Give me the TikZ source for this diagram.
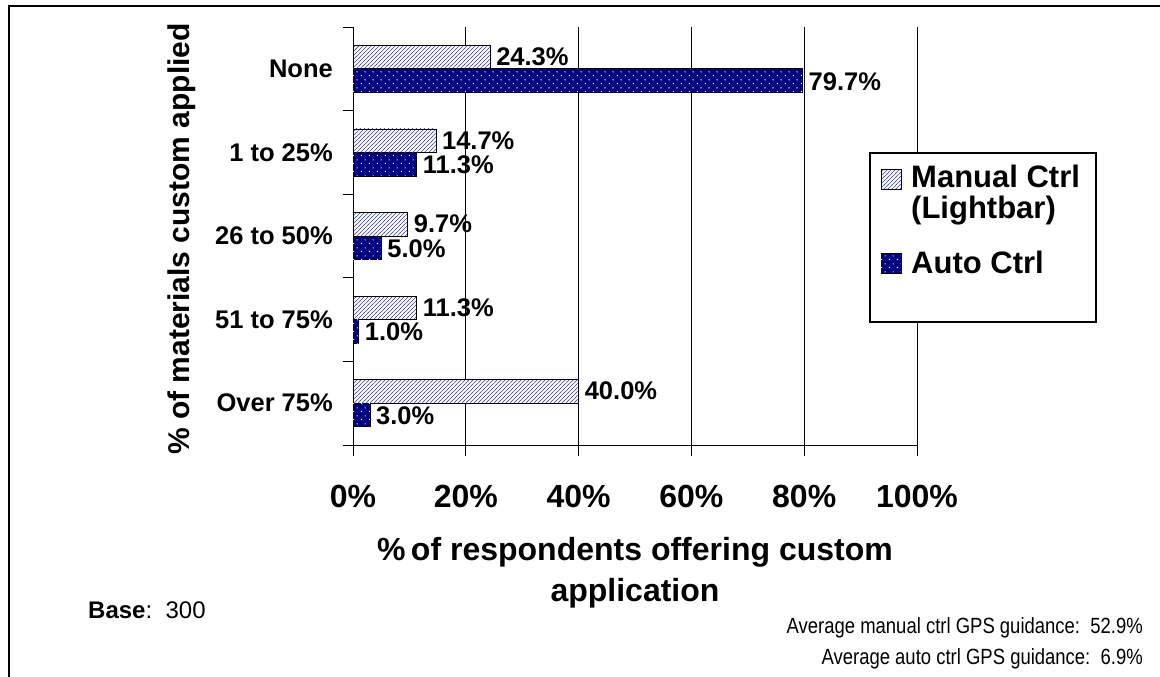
\documentclass[tikz,border=0pt]{standalone}
\usepackage{fontspec}
\setmainfont{Liberation Sans}
\newfontfamily\narrowsans[FakeStretch=0.84]{Liberation Sans}
\usetikzlibrary{patterns}

\definecolor{barnavy}{RGB}{0,0,128}
\definecolor{hatchblue}{RGB}{70,70,205}

% light diagonal hatching used for the manual-control bars
\pgfdeclarepatternformonly{wavehatch}{\pgfpoint{-1pt}{-1pt}}{\pgfpoint{5pt}{5pt}}{\pgfpoint{4pt}{4pt}}{%
  \pgfsetlinewidth{0.7pt}%
  \pgfpathmoveto{\pgfpoint{-0.5pt}{-0.5pt}}%
  \pgfpathlineto{\pgfpoint{4.5pt}{4.5pt}}%
  \pgfusepath{stroke}}

% sparse staggered dots used on the auto-control bars
\pgfdeclarepatternformonly{sparsedots}{\pgfpointorigin}{\pgfpoint{8pt}{8pt}}{\pgfpoint{8pt}{8pt}}{%
  \pgfpathrectangle{\pgfpoint{1pt}{1pt}}{\pgfpoint{1.2pt}{1.2pt}}%
  \pgfpathrectangle{\pgfpoint{5pt}{5pt}}{\pgfpoint{1.2pt}{1.2pt}}%
  \pgfusepath{fill}}

\newcommand\valfont{\fontsize{25.5}{29}\selectfont\bfseries}
\newcommand\tickfont{\fontsize{32}{35}\selectfont\bfseries}
\newcommand\titlefont{\fontsize{32}{41}\selectfont\bfseries}
\newcommand\legfont{\fontsize{31}{31}\selectfont\bfseries}
\newcommand\basefont{\fontsize{24}{28}\selectfont}
\newcommand\notefont{\narrowsans\fontsize{22}{26}\selectfont}

\begin{document}
\begin{tikzpicture}[x=1pt,y=-1pt,
  manualbar/.style={draw=black,line width=0.8pt,preaction={fill=white},pattern=wavehatch,pattern color=hatchblue},
  autobar/.style={draw=black,line width=0.8pt,fill=barnavy,postaction={pattern=sparsedots,pattern color=white}},
  gridline/.style={line width=0.9pt,black},
  vallabel/.style={anchor=west,inner sep=0pt,font=\valfont},
  catlabel/.style={anchor=east,inner sep=0pt,font=\valfont},
  ticklabel/.style={inner sep=0pt,font=\tickfont},
  legtext/.style={anchor=base west,inner sep=0pt,font=\legfont}]

\useasboundingbox (0,0) rectangle (1160,677);
\fill[white] (0,0) rectangle (1160,677);

% outer frame (left and top edges)
\draw[line width=1.8pt] (9,680) -- (9,6) -- (1163,6);

% plot geometry: 0% at x=353, 100% at x=917; rows of 83.6 from y=27 to y=445
\def\xz{353}
\def\xs{5.64}
\def\yt{27}
\def\rh{83.6}

% vertical gridlines with their ticks below the axis
\foreach \p in {1,...,5}
  \draw[gridline] ({\xz+112.8*\p},\yt) -- ({\xz+112.8*\p},456);

% axes and ticks
\draw[gridline] (\xz,\yt) -- (\xz,456);
\draw[gridline] (343,445) -- (917.5,445);
\foreach \k in {0,...,4}
  \draw[gridline] (343,{\yt+\rh*\k}) -- (\xz,{\yt+\rh*\k});

% x tick labels
\foreach \p/\t in {0/0\%,1/20\%,2/40\%,3/60\%,4/80\%,5/100\%}
  \node[ticklabel] (tick\p) at ({\xz+112.8*\p},496) {\t};

% bars, values and category labels
\foreach \i/\cat/\m/\a in {0/None/24.3/79.7,1/1 to 25\%/14.7/11.3,2/26 to 50\%/9.7/5.0,3/51 to 75\%/11.3/1.0,4/Over 75\%/40.0/3.0}{
  \pgfmathsetmacro\cy{\yt+\rh*(\i+0.5)}
  \pgfmathsetmacro\mx{\xz+\xs*\m}
  \pgfmathsetmacro\ax{\xz+\xs*\a}
  \draw[manualbar] (\xz,\cy-23.5) rectangle (\mx,\cy);
  \draw[autobar] (\xz,\cy) rectangle (\ax,\cy+23.5);
  \node[vallabel] (man\i) at (\mx+6,\cy-12) {\m\%};
  \node[vallabel] (aut\i) at (\ax+6,\cy+12.5) {\a\%};
  \node[catlabel] (cat\i) at (333,\cy) {\cat};
}

% axis titles
\node[inner sep=0pt,font=\titlefont,align=center] (xtitle) at (635,573)
  {\%\,of respondents offering custom\\application};
\node[inner sep=0pt,font=\fontsize{30}{34}\selectfont\bfseries,rotate=90] (ytitle) at (182,239)
  {\% of materials custom applied};

% legend
\node[draw=black,line width=1.2pt,fill=white,minimum width=226,minimum height=169,inner sep=0pt] (legend) at (983,237.5) {};
\draw[manualbar] (881,169) rectangle (901,189);
\draw[autobar] (881,253) rectangle (901,273);
\node[legtext] (legman) at (911,187) {Manual Ctrl};
\node[legtext] (leglight) at (911,218) {(Lightbar)};
\node[legtext] (legauto) at (911,273) {Auto Ctrl};

% notes
\node[anchor=west,inner sep=0pt,font=\basefont] (base) at (88,610) {\textbf{Base}:\ \ 300};
\node[anchor=east,inner sep=0pt,font=\notefont] (avgman) at (1143,628) {Average manual ctrl GPS guidance:\ \ 52.9\%};
\node[anchor=east,inner sep=0pt,font=\notefont] (avgauto) at (1143,659) {Average auto ctrl GPS guidance:\ \ 6.9\%};
\end{tikzpicture}
\end{document}
